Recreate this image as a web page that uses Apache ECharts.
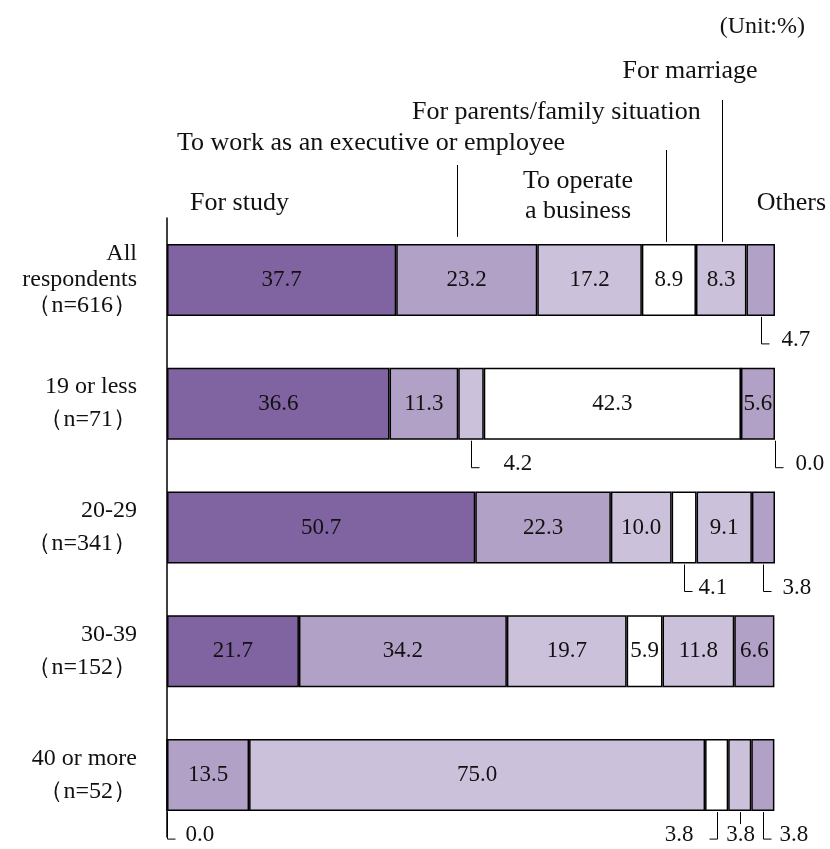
<!DOCTYPE html>
<html>
<head>
<meta charset="utf-8">
<script src="https://cdn.jsdelivr.net/npm/echarts@6/dist/echarts.min.js"></script>
<style>
  html, body { margin: 0; padding: 0; background: #fff; }
  #chart { width: 830px; height: 849px; }
</style>
</head>
<body>
<div id="chart"></div>
<script>
// Reasons for moving, by age group (share of respondents, %)
const categories = ['All respondents', '19 or less', '20-29', '30-39', '40 or more'];
const rowLabelLines = [
  ['All', 'respondents', '（n=616）'],
  ['19 or less', '（n=71）'],
  ['20-29', '（n=341）'],
  ['30-39', '（n=152）'],
  ['40 or more', '（n=52）']
];

const seriesNames = [
  'For study',
  'To work as an executive or employee',
  'To operate a business',
  'For parents/family situation',
  'For marriage',
  'Others'
];
const forStudy     = [37.7, 36.6, 50.7, 21.7, 0.0];
const toWork       = [23.2, 11.3, 22.3, 34.2, 13.5];
const toOperate    = [17.2, 4.2, 10.0, 19.7, 75.0];
const forFamily    = [8.9, 42.3, 4.1, 5.9, 3.8];
const forMarriage  = [8.3, 0.0, 9.1, 11.8, 3.8];
const others       = [4.7, 5.6, 3.8, 6.6, 3.8];

const seriesValues = [forStudy, toWork, toOperate, forFamily, forMarriage, others];
const seriesColors = ['#8064A2', '#B2A1C7', '#CCC1DA', '#FFFFFF', '#CCC1DA', '#B2A1C7'];

// Small segments get their value written below the bar with a leader line.
// side: 'right' = └ value, 'left' = value ┘, 'below' = tick with value under it
const smallLabels = [
  { row: 0, s: 5, side: 'right', gap: 12 },
  { row: 1, s: 2, side: 'right', gap: 24 },
  { row: 1, s: 4, side: 'right', gap: 12, atEnd: true },
  { row: 2, s: 3, side: 'right', gap: 6 },
  { row: 2, s: 5, side: 'right', gap: 11 },
  { row: 4, s: 0, side: 'right', gap: 10 },
  { row: 4, s: 3, side: 'left', gap: 16 },
  { row: 4, s: 4, side: 'below' },
  { row: 4, s: 5, side: 'right', gap: 8 }
];

const FONT = '"Liberation Serif", "Times New Roman", serif';
const LABEL_MIN = 5;

const chart = echarts.init(document.getElementById('chart'), null, { renderer: 'canvas' });

const series = seriesNames.map((name, i) => ({
  name: name,
  type: 'bar',
  stack: 'total',
  barWidth: 72,
  data: seriesValues[i],
  itemStyle: { color: seriesColors[i], borderColor: '#000', borderWidth: 1.5 },
  label: {
    show: true,
    position: 'inside',
    color: '#111',
    fontFamily: FONT,
    fontSize: 23,
    formatter: p => (p.value >= LABEL_MIN ? p.value.toFixed(1) : '')
  },
  silent: true,
  animation: false
}));

const option = {
  animation: false,
  grid: { left: 167, right: 55, top: 218, height: 619, containLabel: false },
  xAxis: { type: 'value', min: 0, max: 100, show: false },
  yAxis: {
    type: 'category',
    inverse: true,
    data: categories,
    axisLine: { show: true, lineStyle: { color: '#000', width: 1.5 } },
    axisTick: { show: false },
    axisLabel: {
      margin: 30,
      fontFamily: FONT,
      fontSize: 24,
      color: '#111',
      formatter: (v, idx) => {
        const lines = rowLabelLines[idx];
        const st = lines.length > 2 ? 'a' : 'b';
        return lines.map(l => '{' + st + '|' + l + '}').join('\n');
      },
      rich: {
        a: { fontFamily: FONT, fontSize: 24, color: '#111', lineHeight: 26, align: 'right' },
        b: { fontFamily: FONT, fontSize: 24, color: '#111', lineHeight: 33, align: 'right' }
      }
    }
  },
  series: series
};

chart.setOption(option);

// ---- annotations placed from the axis scales ----
function cumStart(row, s) {
  let sum = 0;
  for (let k = 0; k < s; k++) sum += seriesValues[k][row];
  return sum;
}
function px(xVal, row) {
  return chart.convertToPixel({ gridIndex: 0 }, [xVal, row]);
}

const BAR_HALF = 36;
const graphics = [];
const lineStyle = { stroke: '#000', lineWidth: 1 };
const textStyle = (text, x, y, align, size) => ({
  type: 'text',
  x: x, y: y,
  style: { text: text, fill: '#111', font: (size || 23) + 'px ' + FONT, textAlign: align, textVerticalAlign: 'middle' },
  silent: true
});

smallLabels.forEach(a => {
  const v = seriesValues[a.s][a.row];
  const start = cumStart(a.row, a.s);
  const xVal = a.atEnd ? cumStart(a.row, seriesValues.length) : start + v / 2;
  const p = px(xVal, a.row);
  const x = Math.round(p[0]) + 0.5;
  const yTop = p[1] + BAR_HALF + 1;
  const yCorner = yTop + 27;
  const txt = v.toFixed(1);
  if (a.side === 'right') {
    graphics.push({ type: 'polyline', shape: { points: [[x, yTop], [x, yCorner], [x + 8, yCorner]] }, style: lineStyle, silent: true });
    graphics.push(textStyle(txt, x + 8 + a.gap, yCorner - 4, 'left'));
  } else if (a.side === 'left') {
    graphics.push({ type: 'polyline', shape: { points: [[x, yTop], [x, yCorner], [x - 8, yCorner]] }, style: lineStyle, silent: true });
    graphics.push(textStyle(txt, x - 8 - a.gap, yCorner - 4, 'right'));
  } else {
    graphics.push({ type: 'line', shape: { x1: x, y1: yTop, x2: x, y2: yTop + 12 }, style: lineStyle, silent: true });
    graphics.push(textStyle(txt, x, yCorner - 4, 'center'));
  }
});

// Series names above the first bar, with leader lines down to their segments
function headerX(s, frac) {
  const start = cumStart(0, s);
  return Math.round(px(start + seriesValues[s][0] * frac, 0)[0]) + 0.5;
}
const bar0Top = px(0, 0)[1] - BAR_HALF;

graphics.push(textStyle('(Unit:%)', 805, 27, 'right', 24));
graphics.push(textStyle('For study', 190, 203, 'left', 26));
graphics.push(textStyle('To work as an executive or employee', 177, 143, 'left', 26));
graphics.push(textStyle('To operate', 578, 181, 'center', 26));
graphics.push(textStyle('a business', 578, 211, 'center', 26));
graphics.push(textStyle('For parents/family situation', 412, 112, 'left', 26));
graphics.push(textStyle('For marriage', 690, 71, 'center', 26));
graphics.push(textStyle('Others', 826, 203, 'right', 26));

const xWork = headerX(1, 0.43);
graphics.push({ type: 'line', shape: { x1: xWork, y1: 165, x2: xWork, y2: bar0Top - 7 }, style: lineStyle, silent: true });
const xFamily = headerX(3, 0.45);
graphics.push({ type: 'line', shape: { x1: xFamily, y1: 150, x2: xFamily, y2: bar0Top - 2 }, style: lineStyle, silent: true });
const xMarriage = headerX(4, 0.52);
graphics.push({ type: 'line', shape: { x1: xMarriage, y1: 100, x2: xMarriage, y2: bar0Top - 2 }, style: lineStyle, silent: true });

chart.setOption({ graphic: { elements: graphics } });
</script>
</body>
</html>
